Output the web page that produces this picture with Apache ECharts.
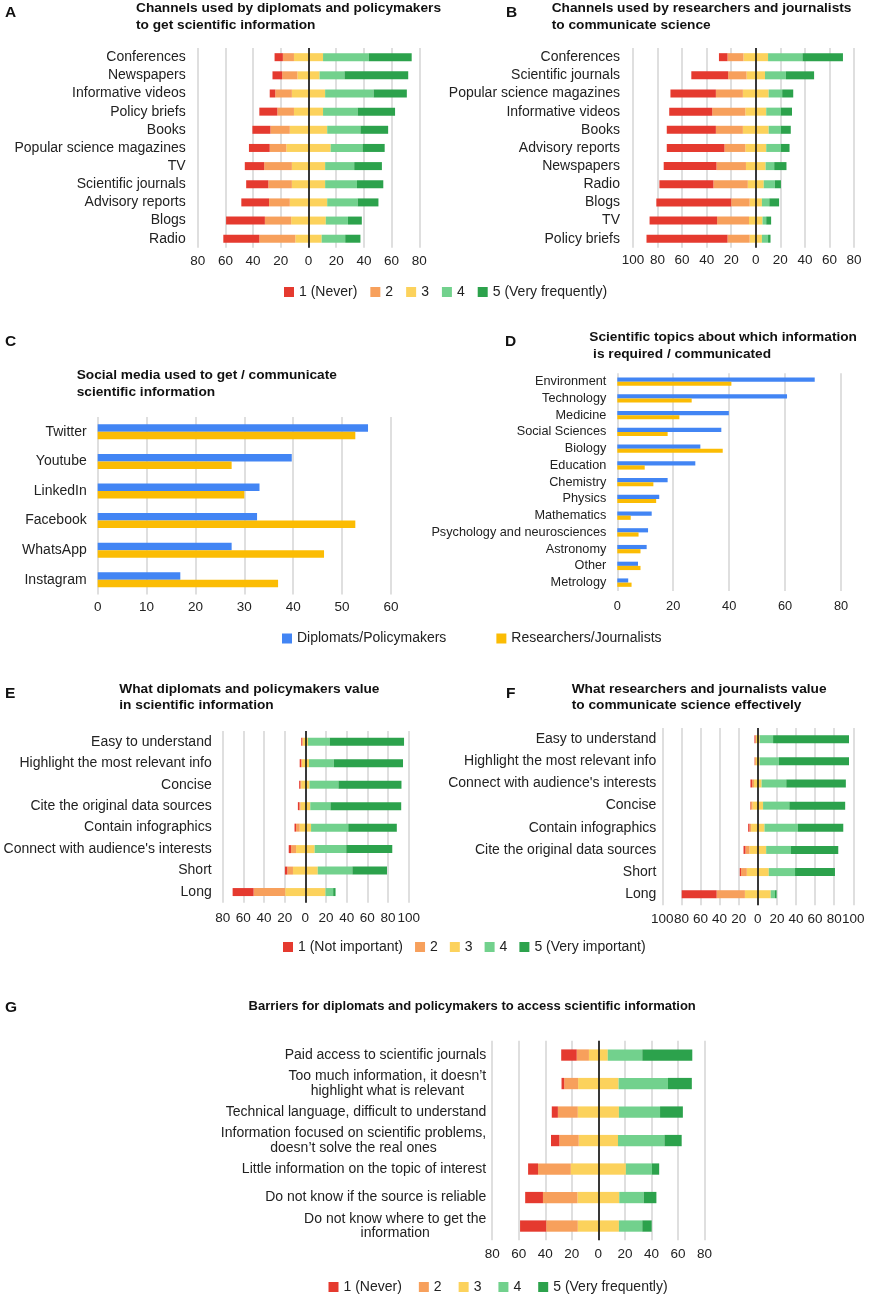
<!DOCTYPE html>
<html><head><meta charset="utf-8">
<script src="https://cdn.jsdelivr.net/npm/echarts@6/dist/echarts.min.js"></script>
<style>html,body{margin:0;padding:0;background:#fff}#c{width:874px;height:1299px}</style>
</head><body><div id="c"></div>
<script>
// ---------- DATA ----------
const channelsA = ['Conferences','Newspapers','Informative videos','Policy briefs','Books','Popular science magazines','TV','Scientific journals','Advisory reports','Blogs','Radio'];
const A_1 = [6, 7, 4, 13, 13, 15, 14, 16, 20, 28, 26];
const A_2 = [8, 11, 12, 12, 14, 12, 20, 17, 15, 19, 26];
const A_3 = [21, 16, 24, 21, 27, 32, 24, 24, 27, 25, 19];
const A_4 = [33, 18, 35, 25, 24, 23, 21, 23, 22, 16, 17];
const A_5 = [31, 46, 24, 27, 20, 16, 20, 19, 15, 10, 11];

const channelsB = ['Conferences','Scientific journals','Popular science magazines','Informative videos','Books','Advisory reports','Newspapers','Radio','Blogs','TV','Policy briefs'];
const B_1 = [7, 30, 37, 35, 40, 47, 43, 44, 61, 55, 66];
const B_2 = [13, 15, 22, 27, 22, 17, 24, 28, 15, 26, 18];
const B_3 = [20, 15, 21, 17, 21, 17, 16, 13, 10, 11, 10];
const B_4 = [28, 17, 11, 12, 10, 12, 7, 9, 6, 3, 5];
const B_5 = [33, 23, 9, 9, 8, 7, 10, 5, 8, 4, 2];

const socialMedia = ['Twitter','Youtube','LinkedIn','Facebook','WhatsApp','Instagram'];
const C_dip = [55.3, 39.7, 33.1, 32.6, 27.4, 16.9];
const C_res = [52.7, 27.4, 30, 52.7, 46.3, 36.9];

const topics = ['Environment','Technology','Medicine','Social Sciences','Biology','Education','Chemistry','Physics','Mathematics','Psychology and neurosciences','Astronomy','Other','Metrology'];
const D_dip = [70.6, 60.7, 39.9, 37.2, 29.7, 27.9, 18, 15, 12.3, 11, 10.5, 7.4, 3.9];
const D_res = [40.8, 26.6, 22.2, 18, 37.7, 9.8, 12.9, 13.9, 4.8, 7.6, 8.3, 8.3, 5.1];

const valuesE = ['Easy to understand','Highlight the most relevant info','Concise','Cite the original data sources','Contain infographics',"Connect with audience's interests",'Short','Long'];
const E_1 = [1, 1.5, 1, 1.5, 1.5, 2.3, 2.3, 20.3];
const E_2 = [0.5, 0.5, 1, 1, 3.5, 4.8, 5.5, 30.6];
const E_3 = [5, 7, 8, 9.5, 11, 18, 24, 39];
const E_4 = [21, 24, 28, 19.5, 36, 30.6, 33.5, 7.4];
const E_5 = [72, 67, 61, 68.5, 47, 44.5, 33.5, 2.3];

const valuesF = ['Easy to understand','Highlight the most relevant info',"Connect with audience's interests",'Concise','Contain infographics','Cite the original data sources','Short','Long'];
const F_1 = [1, 0.3, 1.7, 0.5, 1.4, 2, 1.4, 36.6];
const F_2 = [0.5, 1.2, 2, 2, 1.7, 4.2, 6, 29.6];
const F_3 = [4, 4, 8, 11, 14, 17.5, 23, 27];
const F_4 = [14, 20, 25.8, 27.5, 34.8, 26, 27.5, 4.5];
const F_5 = [79.5, 73.5, 62.4, 58.5, 47.7, 49.5, 41.8, 1.7];

const barriers = ['Paid access to scientific journals','Too much information, it doesn\u2019t\nhighlight what is relevant','Technical language, difficult to understand','Information focused on scientific problems,\ndoesn\u2019t solve the real ones','Little information on the topic of interest','Do not know if the source is reliable','Do not know where to get the\ninformation'];
const G_1 = [11.7, 2, 4.6, 6.3, 7.5, 13.4, 19.7];
const G_2 = [9.2, 10.5, 15, 14.6, 24.7, 26, 23.8];
const G_3 = [14.2, 30.5, 31, 29.6, 41.5, 31.5, 31];
const G_4 = [26, 37.2, 31, 35, 19.7, 18.4, 17.6];
const G_5 = [37.7, 18, 17.2, 13, 5.4, 9.6, 7.1];

const freqNames = ['1 (Never)','2','3','4','5 (Very frequently)'];
const impNames = ['1 (Not important)','2','3','4','5 (Very important)'];
const groupNames = ['Diplomats/Policymakers','Researchers/Journalists'];

// ---------- STYLE ----------
const FONT = "'Liberation Sans', Arial, sans-serif";
const TXT = '#222';
const COLORS = ['#e53a2f', '#f7a05c', '#fcd25c', '#72d18d', '#2ca24c'];
const BLUE = '#4285f4', GOLD = '#fbbc04';

const chart = echarts.init(document.getElementById('c'), null, {renderer: 'canvas'});

const grids = [], xAxes = [], yAxes = [], series = [];

function addPanel(g, cats, x, labelOpt) {
  const i = grids.length;
  grids.push(Object.assign({containLabel: false}, g));
  xAxes.push(Object.assign({
    type: 'value', gridIndex: i,
    axisLine: {show: false}, axisTick: {show: false},
    splitLine: {show: true, lineStyle: {color: '#d4d4d4', width: 1.5}},
    axisLabel: {color: TXT, fontSize: 13.5, fontFamily: FONT, formatter: v => String(Math.abs(v))}
  }, x));
  yAxes.push({
    type: 'category', gridIndex: i, data: cats, inverse: true,
    axisLine: {show: false}, axisTick: {show: false}, splitLine: {show: false},
    axisLabel: Object.assign({color: TXT, fontSize: 14, fontFamily: FONT, interval: 0}, labelOpt)
  });
  return i;
}

function diverging(i, names, d1, d2, d3, d4, d5, bw) {
  const base = {type: 'bar', xAxisIndex: i, yAxisIndex: i, stack: 'g' + i, barWidth: bw, animation: false, emphasis: {disabled: true}};
  series.push(Object.assign({}, base, {name: names[2], data: d3.map(v => -v / 2), itemStyle: {color: COLORS[2]}}));
  series.push(Object.assign({}, base, {name: names[1], data: d2.map(v => -v), itemStyle: {color: COLORS[1]}}));
  series.push(Object.assign({}, base, {name: names[0], data: d1.map(v => -v), itemStyle: {color: COLORS[0]}}));
  series.push(Object.assign({}, base, {name: names[2], data: d3.map(v => v / 2), itemStyle: {color: COLORS[2]}}));
  series.push(Object.assign({}, base, {name: names[3], data: d4.slice(), itemStyle: {color: COLORS[3]}}));
  series.push(Object.assign({}, base, {name: names[4], data: d5.slice(), itemStyle: {color: COLORS[4]},
    markLine: {silent: true, symbol: ['none', 'none'], label: {show: false}, animation: false,
      lineStyle: {color: '#000', width: 1.5, type: 'solid'}, emphasis: {disabled: true}, data: [{xAxis: 0}]}}));
}

// G label: centre the lines of two-line labels (block stays right-aligned)
const measureCtx = document.createElement('canvas').getContext('2d');
measureCtx.font = "14px 'Liberation Sans', Arial, sans-serif";
const gRich = {t: {fontSize: 14, lineHeight: 14.5, color: TXT, fontFamily: FONT}};
const gLabelMap = {};
barriers.forEach((lab, k) => {
  const lines = lab.split('\n');
  const widths = lines.map(l => measureCtx.measureText(l).width);
  const maxW = Math.max.apply(null, widths);
  gLabelMap[lab] = lines.map((l, j) => {
    const pad = (maxW - widths[j]) / 2;
    if (pad < 1) return '{t|' + l + '}';
    const key = 's' + k + '_' + j;
    gRich[key] = {width: pad, fontSize: 14, lineHeight: 14.5, color: 'rgba(0,0,0,0)', fontFamily: FONT};
    return '{t|' + l + '}{' + key + '|\u00a0}';
  }).join('\n');
});

// A
let i = addPanel({left: 197.7, top: 48.1, width: 221.6, height: 199.7}, channelsA, {min: -80, max: 80, interval: 20, axisLabel: {color: TXT, fontSize: 13.5, fontFamily: FONT, margin: 6, formatter: v => String(Math.abs(v))}}, {margin: 12});
diverging(i, freqNames, A_1, A_2, A_3, A_4, A_5, 8);
// B
i = addPanel({left: 633, top: 48.1, width: 221, height: 199.7}, channelsB, {min: -100, max: 80, interval: 20, axisLabel: {color: TXT, fontSize: 13.5, fontFamily: FONT, margin: 5, formatter: v => String(Math.abs(v))}}, {margin: 13});
diverging(i, freqNames, B_1, B_2, B_3, B_4, B_5, 8);
// C
i = addPanel({left: 97.7, top: 417, width: 293.3, height: 177.6}, socialMedia, {min: 0, max: 60, interval: 10, axisLabel: {color: TXT, fontSize: 13.5, fontFamily: FONT, margin: 6}}, {margin: 11});
series.push({type: 'bar', name: groupNames[0], xAxisIndex: i, yAxisIndex: i, data: C_dip, barWidth: 7.5, barGap: '0%', itemStyle: {color: BLUE}, animation: false});
series.push({type: 'bar', name: groupNames[1], xAxisIndex: i, yAxisIndex: i, data: C_res, barWidth: 7.5, barGap: '0%', itemStyle: {color: GOLD}, animation: false});
// D
i = addPanel({left: 617.3, top: 373.3, width: 223.7, height: 217.7}, topics, {min: 0, max: 80, interval: 20, axisLabel: {color: TXT, fontSize: 12.8, fontFamily: FONT, margin: 9}}, {margin: 11, fontSize: 12.7});
series.push({type: 'bar', name: groupNames[0], xAxisIndex: i, yAxisIndex: i, data: D_dip, barWidth: 4.2, barGap: '0%', itemStyle: {color: BLUE}, animation: false});
series.push({type: 'bar', name: groupNames[1], xAxisIndex: i, yAxisIndex: i, data: D_res, barWidth: 4.2, barGap: '0%', itemStyle: {color: GOLD}, animation: false});
// E
i = addPanel({left: 222.7, top: 731, width: 186, height: 171.8}, valuesE, {min: -80, max: 100, interval: 20, axisLabel: {color: TXT, fontSize: 13.5, fontFamily: FONT, margin: 8, formatter: v => String(Math.abs(v))}}, {margin: 11});
diverging(i, impNames, E_1, E_2, E_3, E_4, E_5, 8);
// F
i = addPanel({left: 662.3, top: 728.1, width: 191, height: 177.2}, valuesF, {min: -100, max: 100, interval: 20, axisLabel: {color: TXT, fontSize: 13.5, fontFamily: FONT, margin: 7, formatter: v => String(Math.abs(v))}}, {margin: 6});
diverging(i, impNames, F_1, F_2, F_3, F_4, F_5, 8);
// G
i = addPanel({left: 492.2, top: 1040.8, width: 212.3, height: 199.5}, barriers, {min: -80, max: 80, interval: 20, axisLabel: {color: TXT, fontSize: 13.5, fontFamily: FONT, margin: 7, formatter: v => String(Math.abs(v))}},
  {margin: 6, formatter: v => gLabelMap[v] || v, rich: gRich});
diverging(i, freqNames, G_1, G_2, G_3, G_4, G_5, 11.3);

// ---------- TITLES ----------
function ttl(text, left, top, size, lh) {
  return {text: text, left: left, top: top, padding: 0, itemGap: 0,
    textStyle: {fontFamily: FONT, fontWeight: 'bold', fontSize: size, lineHeight: lh, color: '#111'}};
}
const titles = [
  ttl('A', 5, 4.5, 15.5, 15.5),
  ttl('Channels used by diplomats and policymakers\nto get scientific information', 136, 0, 13.7, 16.7),
  ttl('B', 506, 4.5, 15.5, 15.5),
  ttl('Channels used by researchers and journalists\nto communicate science', 551.7, 0, 13.7, 16.7),
  ttl('C', 5, 334, 15.5, 15.5),
  ttl('Social media used to get / communicate\nscientific information', 76.7, 366.7, 13.7, 16.7),
  ttl('D', 505, 334, 15.5, 15.5),
  ttl('Scientific topics about which information\n is required / communicated', 589.3, 329.3, 13.7, 16.7),
  ttl('E', 5, 685.5, 15.5, 15.5),
  ttl('What diplomats and policymakers value\nin scientific information', 119.3, 681.5, 13.7, 15.7),
  ttl('F', 506, 685.5, 15.5, 15.5),
  ttl('What researchers and journalists value\nto communicate science effectively', 571.7, 681.5, 13.7, 15.7),
  ttl('G', 5, 1000, 15.5, 15.5),
  ttl('Barriers for diplomats and policymakers to access scientific information', 248.6, 998, 13, 16)
];

// ---------- LEGENDS ----------
function lgd(data, left, top, gap) {
  return {data: data, left: left, top: top, itemGap: gap, itemWidth: 10, itemHeight: 10, icon: 'rect', padding: 0,
    textStyle: {fontFamily: FONT, fontSize: 14, color: TXT}, selectedMode: false};
}
const legends = [
  lgd(freqNames, 284, 285, 13),
  lgd(groupNames, 282, 631.5, 50),
  lgd(impNames, 283, 940, 12),
  lgd(freqNames, 328.5, 1280, 17)
];

chart.setOption({
  animation: false,
  backgroundColor: '#fff',
  textStyle: {fontFamily: FONT},
  title: titles,
  legend: legends,
  grid: grids,
  xAxis: xAxes,
  yAxis: yAxes,
  series: series
});
</script></body></html>
